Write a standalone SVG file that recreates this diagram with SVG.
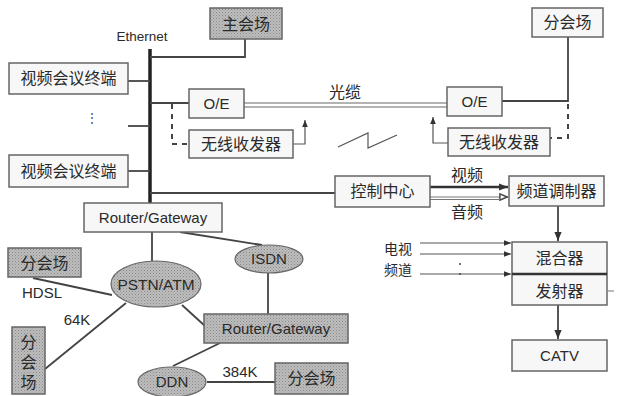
<svg xmlns="http://www.w3.org/2000/svg" width="622" height="396" viewBox="0 0 622 396">
<defs>
<pattern id="hatch" width="3" height="3" patternUnits="userSpaceOnUse">
<rect width="3" height="3" fill="#bdbdbd"/>
<rect width="1" height="1" fill="#8a8a8a"/>
<rect x="1.5" y="1.5" width="1" height="1" fill="#9a9a9a"/>
</pattern>
<marker id="ah" viewBox="0 0 10 10" refX="10" refY="5" markerWidth="7" markerHeight="7" orient="auto" markerUnits="userSpaceOnUse">
<path d="M0,1 L10,5 L0,9 Z" fill="#333"/>
</marker>
<marker id="ahb" viewBox="0 0 10 10" refX="10" refY="5" markerWidth="9" markerHeight="9" orient="auto" markerUnits="userSpaceOnUse">
<path d="M0,1 L10,5 L0,9 Z" fill="#333"/>
</marker>
<marker id="aho" viewBox="0 0 10 10" refX="10" refY="5" markerWidth="9" markerHeight="9" orient="auto" markerUnits="userSpaceOnUse">
<path d="M1,1.5 L9,5 L1,8.5 Z" fill="#fff" stroke="#444" stroke-width="1.6"/>
</marker>
</defs>
<style>
.box{fill:#f7f7f7;stroke:#666;stroke-width:1.5}
.gbox{fill:url(#hatch);stroke:#666;stroke-width:1.5}
.ell{fill:url(#hatch);stroke:#666;stroke-width:1.2}
.zh{font-family:"Noto Sans CJK SC",sans-serif;font-size:16px;fill:#2a2a2a;text-anchor:middle}
.en{font-family:"Liberation Sans",Arial,sans-serif;font-size:15px;fill:#2a2a2a;text-anchor:middle}
.ln{stroke:#444;stroke-width:1.8;fill:none}
.thin{stroke:#555;stroke-width:1.2;fill:none}
.dash{stroke:#444;stroke-width:2;fill:none;stroke-dasharray:5 5}
</style>
<rect width="622" height="396" fill="#fff"/>

<g id="connectors">
<line x1="150" y1="49" x2="150" y2="203" stroke="#222" stroke-width="3.5"/>
<polyline class="ln" points="150,57 245,57 245,39"/>
<line class="ln" x1="128" y1="81" x2="150" y2="81"/>
<line class="ln" x1="128" y1="126" x2="150" y2="126"/>
<line class="ln" x1="128" y1="171" x2="150" y2="171"/>
<line class="ln" x1="150" y1="103" x2="189" y2="103"/>
<polyline class="dash" points="172,104 172,144 189,144"/>
<polyline class="thin" points="293,144 305,144 305,120" marker-end="url(#ah)"/>
<line x1="244" y1="103" x2="447" y2="103" stroke="#666" stroke-width="1"/>
<line x1="244" y1="107" x2="447" y2="107" stroke="#666" stroke-width="1"/>
<polyline class="ln" points="502,101 568,101 568,37"/>
<polyline class="dash" points="568,104 568,138 550,138"/>
<polyline class="thin" points="448,143 433,143 433,117" marker-end="url(#ah)"/>
<polyline points="338,147 368,133 368,148 397,135" stroke="#555" stroke-width="1.2" fill="none"/>
<line class="ln" x1="150" y1="193" x2="335" y2="193"/>
<line x1="430" y1="187" x2="508" y2="187" stroke="#333" stroke-width="2.5" marker-end="url(#ahb)"/>
<line x1="430" y1="197" x2="508" y2="197" stroke="#777" stroke-width="1" marker-end="url(#aho)"/>
<line x1="430" y1="199.5" x2="500" y2="199.5" stroke="#777" stroke-width="1"/>
<line class="ln" x1="558" y1="206" x2="558" y2="241" marker-end="url(#ahb)"/>
<line class="ln" x1="558" y1="305" x2="558" y2="339" marker-end="url(#ahb)"/>
<line class="thin" x1="420" y1="243" x2="511" y2="243" marker-end="url(#ah)"/>
<line class="thin" x1="420" y1="254" x2="511" y2="254" marker-end="url(#ah)"/>
<line class="thin" x1="420" y1="274" x2="511" y2="274" marker-end="url(#ah)"/>
<circle cx="460" cy="264" r="1" fill="#444"/>
<circle cx="460" cy="274" r="1" fill="#444"/>
<line x1="608" y1="291" x2="614" y2="291" stroke="#777" stroke-width="1"/>
<line class="ln" x1="152" y1="232" x2="152" y2="261"/>
<line class="ln" x1="180" y1="232" x2="262" y2="245"/>
<line class="ln" x1="268" y1="272" x2="268" y2="314"/>
<line class="ln" x1="182" y1="305" x2="205" y2="326"/>
<line class="ln" x1="33" y1="278" x2="112" y2="295"/>
<line class="ln" x1="126" y1="303" x2="45" y2="369"/>
<line class="ln" x1="220" y1="343" x2="173" y2="366"/>
<line class="ln" x1="207" y1="382" x2="276" y2="382"/>
</g>

<text class="en" x="142" y="41" style="font-size:13.5px">Ethernet</text>
<text class="zh" x="345" y="98">光缆</text>
<text class="zh" x="467" y="181">视频</text>
<text class="zh" x="467" y="218">音频</text>
<text class="zh" x="412" y="253.5" style="text-anchor:end;font-size:14px">电视</text>
<text class="zh" x="412" y="274.5" style="text-anchor:end;font-size:14px">频道</text>
<text class="en" x="42" y="298">HDSL</text>
<text class="en" x="77" y="325">64K</text>
<text class="en" x="240" y="377">384K</text>
<text x="92" y="122" style="font-family:'Liberation Sans',sans-serif;font-size:12px;fill:#444;text-anchor:middle">⋮</text>

<g id="main-venue"><rect class="gbox" x="210" y="8" width="72" height="31"/><text class="zh" x="246" y="30">主会场</text></g>
<g id="terminal-1"><rect class="box" x="9" y="63" width="119" height="31"/><text class="zh" x="68.5" y="84">视频会议终端</text></g>
<g id="terminal-2"><rect class="box" x="9" y="155" width="119" height="32"/><text class="zh" x="68.5" y="177">视频会议终端</text></g>
<g id="oe-left"><rect class="box" x="189" y="89" width="55" height="29"/><text class="en" x="216.5" y="109">O/E</text></g>
<g id="wireless-left"><rect class="box" x="189" y="130" width="104" height="28"/><text class="zh" x="241" y="150">无线收发器</text></g>
<g id="oe-right"><rect class="box" x="447" y="87" width="55" height="29"/><text class="en" x="474.5" y="107">O/E</text></g>
<g id="wireless-right"><rect class="box" x="448" y="128" width="102" height="28"/><text class="zh" x="499" y="148">无线收发器</text></g>
<g id="branch-top"><rect class="box" x="532" y="8" width="71" height="29"/><text class="zh" x="567.5" y="28">分会场</text></g>
<g id="control-center"><rect class="box" x="335" y="176" width="95" height="31"/><text class="zh" x="382.5" y="197">控制中心</text></g>
<g id="modulator"><rect class="box" x="509" y="176" width="95" height="30"/><text class="zh" x="556.5" y="197">频道调制器</text></g>
<g id="mixer-transmitter"><rect class="box" x="512" y="242" width="95" height="63"/><line x1="512" y1="274" x2="607" y2="274" stroke="#333" stroke-width="2.5"/><text class="zh" x="559.5" y="264">混合器</text><text class="zh" x="559.5" y="297">发射器</text></g>
<g id="catv"><rect class="box" x="512" y="340" width="95" height="31"/><text class="en" x="559.5" y="361">CATV</text></g>
<g id="router-gateway-1"><rect class="box" x="84" y="203" width="138" height="29"/><text class="en" x="153" y="223">Router/Gateway</text></g>
<g id="pstn-atm"><ellipse class="ell" cx="156" cy="284" rx="45" ry="23"/><text class="en" x="156" y="290" style="font-size:15.5px">PSTN/ATM</text></g>
<g id="isdn"><ellipse class="ell" cx="269" cy="259" rx="34" ry="14"/><text class="en" x="269" y="264">ISDN</text></g>
<g id="router-gateway-2"><rect class="gbox" x="204" y="314" width="144" height="29"/><text class="en" x="276" y="334">Router/Gateway</text></g>
<g id="ddn"><ellipse class="ell" cx="172" cy="382" rx="34" ry="15"/><text class="en" x="172" y="387">DDN</text></g>
<g id="branch-left"><rect class="gbox" x="8" y="248" width="73" height="29"/><text class="zh" x="44.5" y="269">分会场</text></g>
<g id="branch-vertical"><rect class="gbox" x="12" y="327" width="33" height="67"/><text class="zh" x="28.5" y="364" style="writing-mode:vertical-rl;letter-spacing:4px">分会场</text></g>
<g id="branch-bottom"><rect class="gbox" x="275" y="363" width="73" height="31"/><text class="zh" x="311.5" y="384">分会场</text></g>
</svg>
